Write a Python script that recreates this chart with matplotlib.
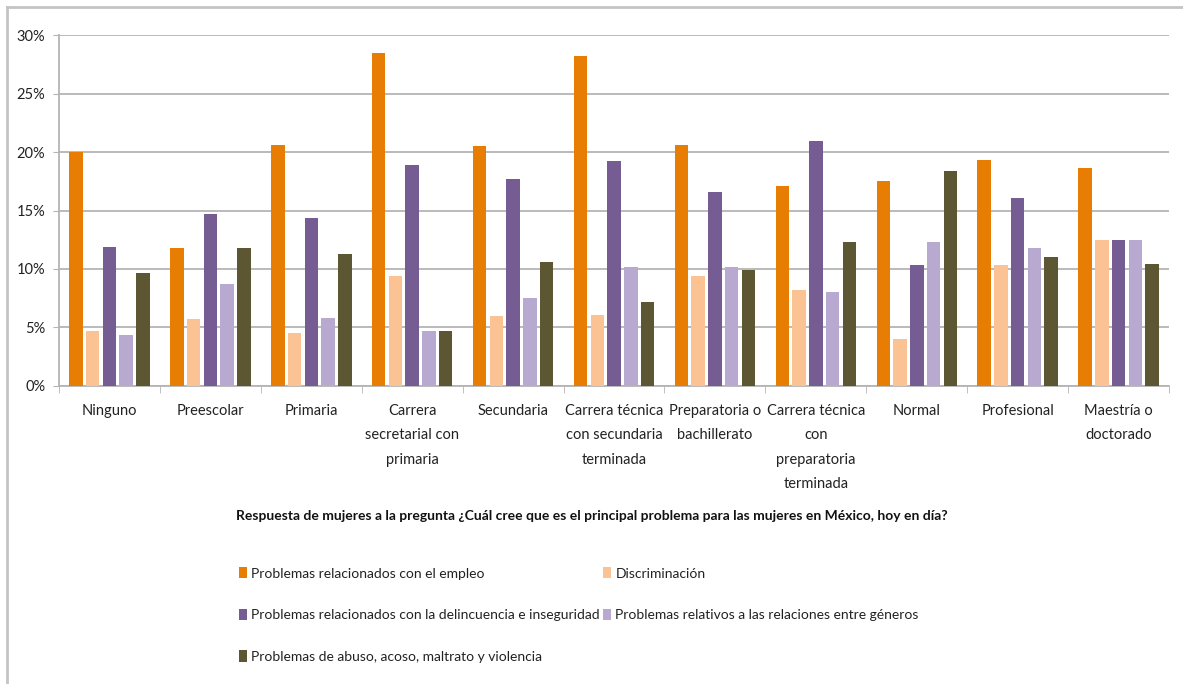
"""Bar chart: main problem for women in Mexico by education level."""

import matplotlib

matplotlib.use("Agg")

import matplotlib.pyplot as plt  # noqa: E402
import numpy as np  # noqa: E402
from matplotlib.lines import Line2D  # noqa: E402
from matplotlib.patches import Patch  # noqa: E402

plt.rcParams["font.family"] = ["Lato", "DejaVu Sans"]

categories = [
    "Ninguno",
    "Preescolar",
    "Primaria",
    "Carrera\nsecretarial con\nprimaria",
    "Secundaria",
    "Carrera técnica\ncon secundaria\nterminada",
    "Preparatoria o\nbachillerato",
    "Carrera técnica\ncon\npreparatoria\nterminada",
    "Normal",
    "Profesional",
    "Maestría o\ndoctorado",
]

empleo = [20.0, 11.8, 20.6, 28.5, 20.5, 28.2, 20.6, 17.1, 17.5, 19.3, 18.6]
discriminacion = [4.7, 5.7, 4.5, 9.4, 6.0, 6.1, 9.4, 8.2, 4.0, 10.3, 12.5]
delincuencia = [11.9, 14.7, 14.4, 18.9, 17.7, 19.2, 16.6, 20.9, 10.3, 16.1, 12.5]
relaciones = [4.4, 8.7, 5.8, 4.7, 7.5, 10.2, 10.2, 8.0, 12.3, 11.8, 12.5]
abuso = [9.7, 11.8, 11.3, 4.7, 10.6, 7.2, 9.9, 12.3, 18.4, 11.0, 10.4]

series_labels = [
    "Problemas relacionados con el empleo",
    "Discriminación",
    "Problemas relacionados con la delincuencia e inseguridad",
    "Problemas relativos a las relaciones entre géneros",
    "Problemas de abuso, acoso, maltrato y violencia",
]
series_colors = ["#E87D03", "#FBC393", "#755C93", "#B7A9CF", "#5C5633"]
y_ticks = [0, 5, 10, 15, 20, 25, 30]

title = ("Respuesta de mujeres a la pregunta ¿Cuál cree que es el principal "
         "problema para las mujeres en México, hoy en día?")

series = [empleo, discriminacion, delincuencia, relaciones, abuso]

fig = plt.figure(figsize=(11.83, 6.84), dpi=100)
ax = fig.add_axes([0.0499, 0.4357, 0.9383, 0.5131])

x = np.arange(len(categories))
step = 0.166
width = 0.134
for index, (values, color) in enumerate(zip(series, series_colors)):
    offset = (index - 2) * step
    ax.bar(x + offset, values, width=width, color=color, zorder=3)

grid_color = "#B4B4B4"
ax.set_ylim(0, 30)
ax.set_xlim(-0.5, len(categories) - 0.5)
ax.set_yticks(y_ticks)
ax.set_yticklabels([f"{tick}%" for tick in y_ticks], fontsize=10.5, color="#222222")
ax.yaxis.grid(True, color=grid_color, linewidth=1.3, zorder=0)
ax.set_xticks(x)
ax.set_xticklabels(categories, fontsize=10.5, color="#222222", linespacing=1.95, va="top")
ax.set_xticks(np.arange(len(categories) + 1) - 0.5, minor=True)
ax.tick_params(axis="x", which="major", length=0, pad=13)
ax.tick_params(axis="x", which="minor", length=5, color=grid_color, direction="out")
ax.tick_params(axis="y", length=4, color=grid_color, pad=6)
for side in ("top", "right"):
    ax.spines[side].set_visible(False)
for side in ("left", "bottom"):
    ax.spines[side].set_color(grid_color)
    ax.spines[side].set_linewidth(1.3)

fig.text(0.5005, 1 - 516 / 684, title, ha="center", va="center",
         fontsize=10, fontweight="bold", color="#111111")

order = [0, 2, 4, 1, 3]
handles = [Patch(facecolor=series_colors[i], edgecolor="none") for i in order]
labels = [series_labels[i] for i in order]
fig.legend(
    handles,
    labels,
    ncol=2,
    loc="upper left",
    bbox_to_anchor=(232 / 1183, 1 - 560 / 684),
    frameon=False,
    fontsize=10,
    labelspacing=2.1,
    handlelength=0.6,
    handleheight=0.9,
    handletextpad=0.3,
    columnspacing=0.2,
    borderpad=0,
    labelcolor="#222222",
)

# grey frame round the pasted chart (top and left edges only)
frame = "#C4C4C4"
fig.add_artist(Line2D([7 / 1183, 1], [1 - 7 / 684, 1 - 7 / 684], color=frame, linewidth=2,
                      transform=fig.transFigure))
fig.add_artist(Line2D([7 / 1183, 7 / 1183], [0, 1 - 7 / 684], color=frame, linewidth=2,
                      transform=fig.transFigure))

fig.savefig("out.png", dpi=100)
plt.close(fig)
